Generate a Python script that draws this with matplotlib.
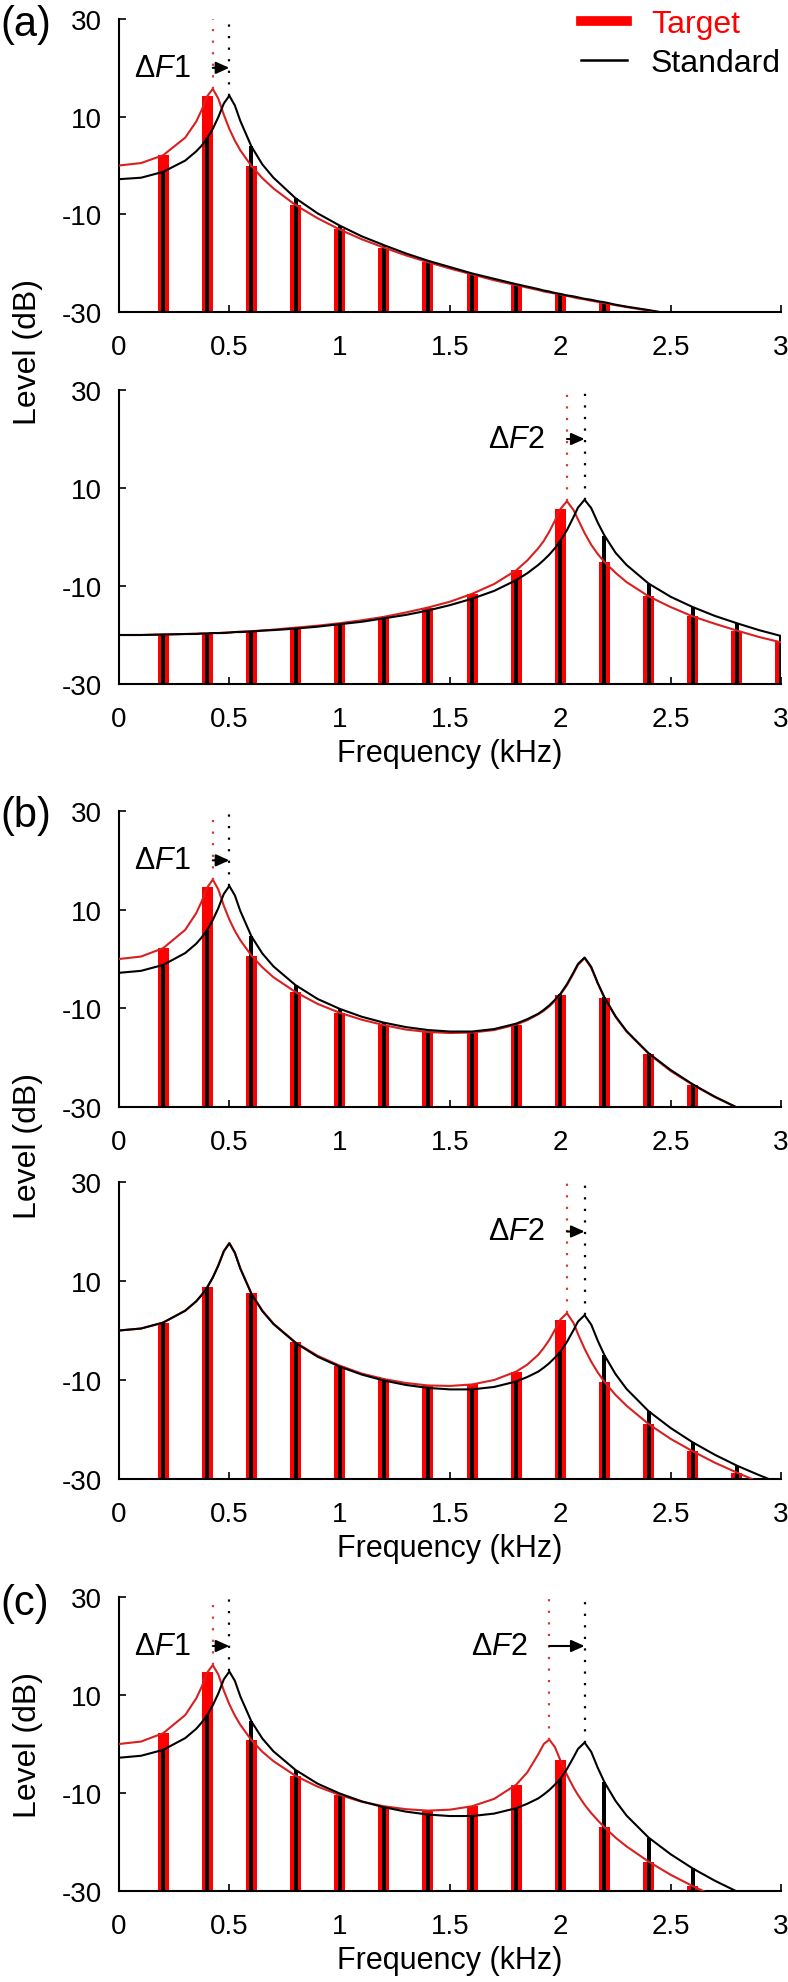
import matplotlib
matplotlib.use("Agg")
import matplotlib.pyplot as plt
from matplotlib.lines import Line2D
import numpy as np

plt.rcParams["font.family"] = ["Liberation Sans", "DejaVu Sans"]
plt.rcParams["mathtext.fontset"] = "custom"
plt.rcParams["mathtext.rm"] = "Liberation Sans"
plt.rcParams["mathtext.it"] = "Liberation Sans:italic"
plt.rcParams["axes.unicode_minus"] = False

freq = [0.0, 0.1, 0.2, 0.3, 0.35, 0.375, 0.4, 0.425, 0.45, 0.475, 0.5, 0.525,
        0.55, 0.6, 0.65, 0.7, 0.8, 0.9, 1.0, 1.1, 1.2, 1.3, 1.4, 1.5, 1.6, 1.7,
        1.8, 1.85, 1.9, 1.925, 1.95, 1.975, 2.0, 2.03, 2.06, 2.08, 2.11, 2.14,
        2.17, 2.2, 2.25, 2.3, 2.4, 2.5, 2.6, 2.7, 2.8, 2.9, 3.0]
harmonics = [0.2, 0.4, 0.6, 0.8, 1.0, 1.2, 1.4, 1.6, 1.8, 2.0, 2.2, 2.4, 2.6, 2.8, 3.0]

# Envelope levels (dB)
a1_target = [0.0, 0.5, 2.1, 5.7, 9.0, 11.4, 14.2, 15.7, 13.7, 10.4, 7.5, 5.1, 3.1,
             -0.1, -2.6, -4.7, -8.1, -10.8, -13.1, -15.1, -16.8, -18.4, -19.8, -21.1,
             -22.3, -23.5, -24.5, -25.0, -25.5, -25.8, -26.0, -26.2, -26.4, -26.7,
             -27.0, -27.2, -27.4, -27.7, -27.9, -28.2, -28.6, -29.0, -29.7, -30.5,
             -31.2, -31.8, -32.5, -33.1, -33.7]
a1_standard = [-2.8, -2.5, -1.3, 1.0, 2.9, 4.1, 5.6, 7.5, 9.9, 12.7, 14.3, 12.3, 9.1,
               3.9, 0.2, -2.5, -6.7, -9.8, -12.3, -14.5, -16.3, -18.0, -19.5, -20.8,
               -22.1, -23.2, -24.3, -24.8, -25.3, -25.6, -25.8, -26.1, -26.3, -26.6,
               -26.8, -27.0, -27.3, -27.5, -27.8, -28.0, -28.5, -28.9, -29.6, -30.4,
               -31.1, -31.8, -32.4, -33.0, -33.6]
a2_target = [-20.0, -20.0, -19.9, -19.8, -19.7, -19.7, -19.7, -19.6, -19.6, -19.5,
             -19.5, -19.4, -19.3, -19.2, -19.1, -18.9, -18.5, -18.1, -17.6, -17.0,
             -16.3, -15.4, -14.4, -13.2, -11.6, -9.6, -6.8, -4.8, -2.3, -0.8, 1.1,
             3.3, 5.7, 7.3, 5.5, 3.6, 0.8, -1.6, -3.5, -5.1, -7.3, -9.2, -12.1,
             -14.3, -16.2, -17.7, -19.1, -20.4, -21.5]
a2_standard = [-20.0, -20.0, -19.9, -19.8, -19.8, -19.7, -19.7, -19.6, -19.6, -19.6,
               -19.5, -19.4, -19.4, -19.3, -19.1, -19.0, -18.7, -18.3, -17.8, -17.3,
               -16.6, -15.9, -15.0, -13.9, -12.6, -11.0, -8.8, -7.4, -5.7, -4.7, -3.6,
               -2.3, -0.8, 1.4, 4.1, 6.0, 7.6, 5.9, 2.9, 0.3, -3.2, -5.7, -9.5,
               -12.2, -14.3, -16.1, -17.6, -19.0, -20.2]
b1_target = [0.0, 0.5, 2.2, 5.9, 9.3, 11.7, 14.5, 16.1, 14.1, 10.8, 8.0, 5.7, 3.8,
             0.7, -1.7, -3.7, -6.7, -9.1, -10.9, -12.3, -13.4, -14.3, -14.8, -15.0,
             -14.9, -14.4, -13.3, -12.4, -11.2, -10.5, -9.6, -8.5, -7.2, -5.3, -2.9,
             -1.2, 0.2, -1.8, -5.0, -7.9, -11.7, -14.7, -19.2, -22.7, -25.5, -28.0,
             -30.1, -32.1, -33.9]
b1_standard = [-2.8, -2.4, -1.2, 1.2, 3.1, 4.4, 5.9, 7.9, 10.3, 13.2, 14.8, 12.9, 9.7,
               4.6, 1.1, -1.5, -5.3, -8.1, -10.1, -11.7, -12.9, -13.8, -14.4, -14.7,
               -14.7, -14.2, -13.1, -12.2, -11.1, -10.3, -9.4, -8.3, -7.1, -5.1, -2.7,
               -1.0, 0.3, -1.6, -4.9, -7.8, -11.6, -14.6, -19.1, -22.5, -25.4, -27.9,
               -30.1, -32.0, -33.8]
b2_target = [0.0, 0.4, 1.6, 4.0, 5.9, 7.2, 8.8, 10.7, 13.2, 16.0, 17.7, 15.7, 12.5,
             7.5, 4.0, 1.4, -2.4, -5.1, -7.1, -8.7, -9.8, -10.6, -11.1, -11.2, -10.9,
             -10.0, -8.3, -6.9, -4.9, -3.5, -1.9, 0.1, 2.2, 3.5, 1.5, -0.7, -3.7,
             -6.3, -8.5, -10.4, -13.0, -15.2, -18.9, -21.9, -24.4, -26.7, -28.7,
             -30.6, -32.3]
b2_standard = [0.0, 0.4, 1.6, 4.0, 5.9, 7.2, 8.7, 10.7, 13.1, 16.0, 17.6, 15.7, 12.5,
               7.4, 3.9, 1.3, -2.5, -5.3, -7.3, -8.9, -10.1, -11.0, -11.6, -11.9,
               -11.9, -11.4, -10.3, -9.4, -8.3, -7.5, -6.6, -5.5, -4.3, -2.3, 0.1,
               1.8, 3.1, 1.2, -2.1, -5.0, -8.8, -11.8, -16.3, -19.7, -22.6, -25.1,
               -27.3, -29.2, -31.0]
c_target = [0.0, 0.5, 2.2, 5.9, 9.3, 11.7, 14.6, 16.1, 14.2, 10.9, 8.1, 5.8, 3.9,
            0.8, -1.6, -3.5, -6.5, -8.7, -10.4, -11.8, -12.7, -13.3, -13.6, -13.4,
            -12.7, -11.2, -8.3, -5.8, -2.1, 0.0, 0.9, -0.6, -3.3, -6.3, -8.9, -10.4,
            -12.4, -14.1, -15.6, -17.0, -19.1, -20.9, -24.0, -26.7, -29.0, -31.1,
            -33.0, -34.8, -36.4]
c_standard = [-2.8, -2.4, -1.2, 1.2, 3.1, 4.4, 5.9, 7.9, 10.3, 13.2, 14.8, 12.9, 9.7,
              4.6, 1.1, -1.5, -5.3, -8.1, -10.1, -11.7, -12.9, -13.8, -14.4, -14.7,
              -14.7, -14.2, -13.1, -12.2, -11.1, -10.3, -9.4, -8.3, -7.1, -5.1, -2.7,
              -1.0, 0.3, -1.6, -4.9, -7.8, -11.6, -14.6, -19.1, -22.5, -25.4, -27.9,
              -30.1, -32.0, -33.8]

# Formant frequencies (kHz) marked by the dotted lines
f1_target, f1_standard = 0.425, 0.5
f2_target_small, f2_target_large, f2_standard = 2.03, 1.95, 2.11

RED_BAR = "#ff0000"
RED_LINE = "#d82020"
RED_DOT = "#d03a3a"
BOTTOM = -30

W, H = 788, 1983


def rect(top, bottom, left=119, right=781):
    return [left / W, 1 - bottom / H, (right - left) / W, (bottom - top) / H]


def level_at(curve, f):
    return curve[freq.index(f)]


def draw_panel(ax, target, standard, shifts, xlabel):
    t = np.array([level_at(target, h) for h in harmonics])
    s = np.array([level_at(standard, h) for h in harmonics])
    h = np.array(harmonics)
    mt, ms = t > BOTTOM, s > BOTTOM
    ax.bar(h[mt], t[mt] - BOTTOM, bottom=BOTTOM, width=0.05, color=RED_BAR, zorder=2)
    ax.bar(h[ms], s[ms] - BOTTOM, bottom=BOTTOM, width=0.018, color="black", zorder=3)
    ax.plot(freq, target, color=RED_LINE, lw=1.5, zorder=4)
    ax.plot(freq, standard, color="black", lw=1.5, zorder=5)

    for label, ft, fs in shifts:
        ax.plot([ft, ft], [level_at(target, ft), 30], color=RED_DOT, lw=1.6,
                ls=(0, (1, 4.2)), zorder=6, clip_on=False)
        ax.plot([fs, fs], [level_at(standard, fs), 30], color="black", lw=1.6,
                ls=(0, (1, 4.2)), zorder=6, clip_on=False)
        ax.annotate("", xy=(fs, 20), xytext=(ft, 20),
                    arrowprops=dict(arrowstyle="-|>,head_length=0.8,head_width=0.36",
                                    mutation_scale=10, lw=1.5, color="black",
                                    shrinkA=0, shrinkB=0), zorder=7)
        ax.annotate(label, xy=(ft, 20), xytext=(-16, 0), textcoords="offset points",
                    ha="right", va="center", fontsize=22)

    ax.set_xlim(0, 3)
    ax.set_ylim(-30, 30)
    ax.set_xticks([0, 0.5, 1, 1.5, 2, 2.5, 3])
    ax.set_xticklabels(["0", "0.5", "1", "1.5", "2", "2.5", "3"])
    ax.set_yticks([-30, -10, 10, 30])
    ax.tick_params(direction="in", length=5, width=1.2, labelsize=20)
    ax.tick_params(axis="x", pad=16)
    ax.tick_params(axis="y", pad=12)
    for side in ("top", "right"):
        ax.spines[side].set_visible(False)
    for side in ("left", "bottom"):
        ax.spines[side].set_linewidth(1.5)
    if xlabel:
        ax.set_xlabel("Frequency (kHz)", fontsize=22, labelpad=4)


def main() -> None:
    fig = plt.figure(figsize=(W / 100, H / 100), dpi=100)

    dF1 = "Δ$\\mathit{F}$1"
    dF2 = "Δ$\\mathit{F}$2"
    panels = [
        (rect(20, 313), a1_target, a1_standard, [(dF1, f1_target, f1_standard)], False),
        (rect(391, 685), a2_target, a2_standard, [(dF2, f2_target_small, f2_standard)], True),
        (rect(812, 1108), b1_target, b1_standard, [(dF1, f1_target, f1_standard)], False),
        (rect(1183, 1480), b2_target, b2_standard, [(dF2, f2_target_small, f2_standard)], True),
        (rect(1598, 1892), c_target, c_standard,
         [(dF1, f1_target, f1_standard), (dF2, f2_target_large, f2_standard)], True),
    ]
    axes = []
    for r, tgt, std, shifts, xl in panels:
        ax = fig.add_axes(r)
        draw_panel(ax, tgt, std, shifts, xl)
        axes.append(ax)

    handles = [Line2D([], [], color=RED_BAR, lw=7), Line2D([], [], color="black", lw=1.8)]
    axes[0].legend(handles, ["Target", "Standard"], loc="upper right",
                   bbox_to_anchor=(1.0, 1.033), frameon=False, fontsize=23,
                   labelcolor=[RED_BAR, "black"], handlelength=1.45,
                   handletextpad=0.75, labelspacing=0.27, borderpad=0,
                   borderaxespad=0)

    # Panel letters and shared y labels
    for letter, y in (("(a)", 25), ("(b)", 816), ("(c)", 1604)):
        fig.text(0.0, 1 - y / H, letter, fontsize=30, ha="left", va="center")
    for y in ((20 + 685) / 2, (812 + 1480) / 2, (1598 + 1892) / 2):
        fig.text(28 / W, 1 - y / H, "Level (dB)", fontsize=23, rotation=90,
                 ha="center", va="center")

    fig.savefig("out.png", dpi=100)


if __name__ == "__main__":
    main()
